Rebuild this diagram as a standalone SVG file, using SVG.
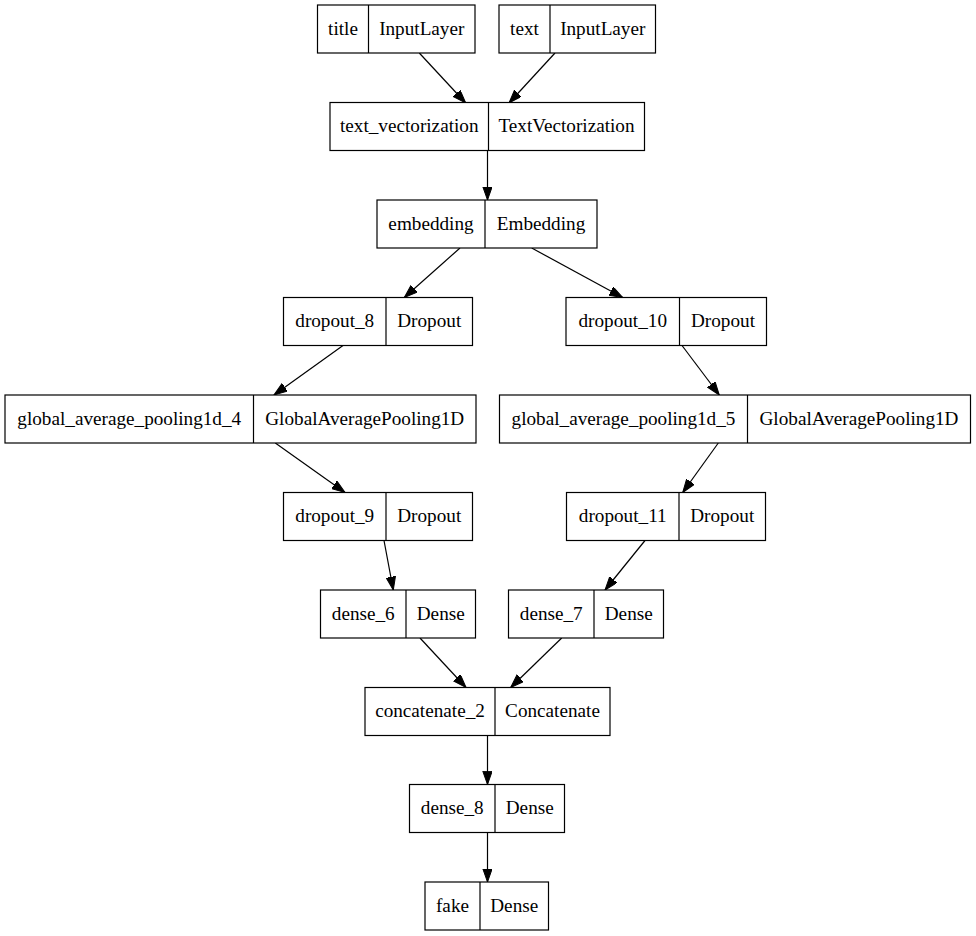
<svg xmlns="http://www.w3.org/2000/svg" width="976" height="936" viewBox="0 0 976 936">
<style>
.box{fill:#fff;stroke:#000;stroke-width:1.2}
.div{stroke:#000;stroke-width:1.2}
.t{font-family:"Liberation Serif","Times New Roman",serif;font-size:19.2px;fill:#000;text-anchor:middle}
.e{stroke:#000;stroke-width:1.2;fill:none;marker-end:url(#ah)}
</style>
<defs>
<marker id="ah" markerUnits="userSpaceOnUse" markerWidth="14" markerHeight="10" refX="13.3" refY="4.7" orient="auto">
<path d="M0,0 L13.3,4.7 L0,9.4 Z" fill="#000" stroke="#000" stroke-width="1"/>
</marker>
</defs>
<rect width="976" height="936" fill="#fff"/>
<g id="connectors">
<line class="e" x1="419.3" y1="53" x2="465.7" y2="103"/>
<line class="e" x1="555" y1="53" x2="509" y2="103"/>
<line class="e" x1="487.5" y1="150.5" x2="487.5" y2="200"/>
<line class="e" x1="460" y1="248" x2="404.3" y2="297.5"/>
<line class="e" x1="531.7" y1="248" x2="622.7" y2="297.5"/>
<line class="e" x1="343" y1="345.5" x2="274" y2="395"/>
<line class="e" x1="682" y1="345.5" x2="719.3" y2="395"/>
<line class="e" x1="275.3" y1="443" x2="345" y2="492.5"/>
<line class="e" x1="718.3" y1="443" x2="682.7" y2="492.5"/>
<line class="e" x1="384" y1="540.5" x2="393.3" y2="590"/>
<line class="e" x1="645" y1="540.5" x2="605" y2="590"/>
<line class="e" x1="420" y1="638" x2="466" y2="687.5"/>
<line class="e" x1="561.7" y1="638" x2="510.7" y2="687.5"/>
<line class="e" x1="487.5" y1="735.5" x2="487.5" y2="784.5"/>
<line class="e" x1="487.5" y1="832.5" x2="487.5" y2="882"/>
</g>
<g id="title">
<rect class="box" x="317.5" y="5" width="157.5" height="48"/>
<line class="div" x1="368.5" y1="5" x2="368.5" y2="53"/>
<text class="t" x="343" y="34.6">title</text>
<text class="t" x="421.75" y="34.6">InputLayer</text>
</g>
<g id="text">
<rect class="box" x="499" y="5" width="156.5" height="48"/>
<line class="div" x1="550" y1="5" x2="550" y2="53"/>
<text class="t" x="524.5" y="34.6">text</text>
<text class="t" x="602.75" y="34.6">InputLayer</text>
</g>
<g id="text_vectorization">
<rect class="box" x="330" y="102.5" width="314.5" height="48"/>
<line class="div" x1="488.5" y1="102.5" x2="488.5" y2="150.5"/>
<text class="t" x="409.25" y="132.1">text_vectorization</text>
<text class="t" x="566.5" y="132.1">TextVectorization</text>
</g>
<g id="embedding">
<rect class="box" x="377" y="200" width="220" height="48"/>
<line class="div" x1="485" y1="200" x2="485" y2="248"/>
<text class="t" x="431" y="229.6">embedding</text>
<text class="t" x="541" y="229.6">Embedding</text>
</g>
<g id="dropout_8">
<rect class="box" x="283.5" y="297.5" width="189" height="48"/>
<line class="div" x1="386" y1="297.5" x2="386" y2="345.5"/>
<text class="t" x="334.75" y="327.1">dropout_8</text>
<text class="t" x="429.25" y="327.1">Dropout</text>
</g>
<g id="dropout_10">
<rect class="box" x="566" y="297.5" width="200.5" height="48"/>
<line class="div" x1="679.5" y1="297.5" x2="679.5" y2="345.5"/>
<text class="t" x="622.75" y="327.1">dropout_10</text>
<text class="t" x="723" y="327.1">Dropout</text>
</g>
<g id="global_average_pooling1d_4">
<rect class="box" x="5" y="395" width="471" height="48"/>
<line class="div" x1="253.5" y1="395" x2="253.5" y2="443"/>
<text class="t" x="129.25" y="424.6">global_average_pooling1d_4</text>
<text class="t" x="364.75" y="424.6">GlobalAveragePooling1D</text>
</g>
<g id="global_average_pooling1d_5">
<rect class="box" x="499.5" y="395" width="471" height="48"/>
<line class="div" x1="747.5" y1="395" x2="747.5" y2="443"/>
<text class="t" x="623.5" y="424.6">global_average_pooling1d_5</text>
<text class="t" x="859" y="424.6">GlobalAveragePooling1D</text>
</g>
<g id="dropout_9">
<rect class="box" x="283.5" y="492.5" width="189" height="48"/>
<line class="div" x1="386" y1="492.5" x2="386" y2="540.5"/>
<text class="t" x="334.75" y="522.1">dropout_9</text>
<text class="t" x="429.25" y="522.1">Dropout</text>
</g>
<g id="dropout_11">
<rect class="box" x="566.5" y="492.5" width="199" height="48"/>
<line class="div" x1="679" y1="492.5" x2="679" y2="540.5"/>
<text class="t" x="622.75" y="522.1">dropout_11</text>
<text class="t" x="722.25" y="522.1">Dropout</text>
</g>
<g id="dense_6">
<rect class="box" x="320.5" y="590" width="155" height="48"/>
<line class="div" x1="406" y1="590" x2="406" y2="638"/>
<text class="t" x="363.25" y="619.6">dense_6</text>
<text class="t" x="440.75" y="619.6">Dense</text>
</g>
<g id="dense_7">
<rect class="box" x="508.5" y="590" width="155" height="48"/>
<line class="div" x1="594" y1="590" x2="594" y2="638"/>
<text class="t" x="551.25" y="619.6">dense_7</text>
<text class="t" x="628.75" y="619.6">Dense</text>
</g>
<g id="concatenate_2">
<rect class="box" x="365" y="687.5" width="245" height="48"/>
<line class="div" x1="495" y1="687.5" x2="495" y2="735.5"/>
<text class="t" x="430" y="717.1">concatenate_2</text>
<text class="t" x="552.5" y="717.1">Concatenate</text>
</g>
<g id="dense_8">
<rect class="box" x="409.5" y="784.5" width="155" height="48"/>
<line class="div" x1="495" y1="784.5" x2="495" y2="832.5"/>
<text class="t" x="452.25" y="814.1">dense_8</text>
<text class="t" x="529.75" y="814.1">Dense</text>
</g>
<g id="fake">
<rect class="box" x="425" y="882" width="123.5" height="48"/>
<line class="div" x1="480" y1="882" x2="480" y2="930"/>
<text class="t" x="452.5" y="911.6">fake</text>
<text class="t" x="514.25" y="911.6">Dense</text>
</g>
</svg>
